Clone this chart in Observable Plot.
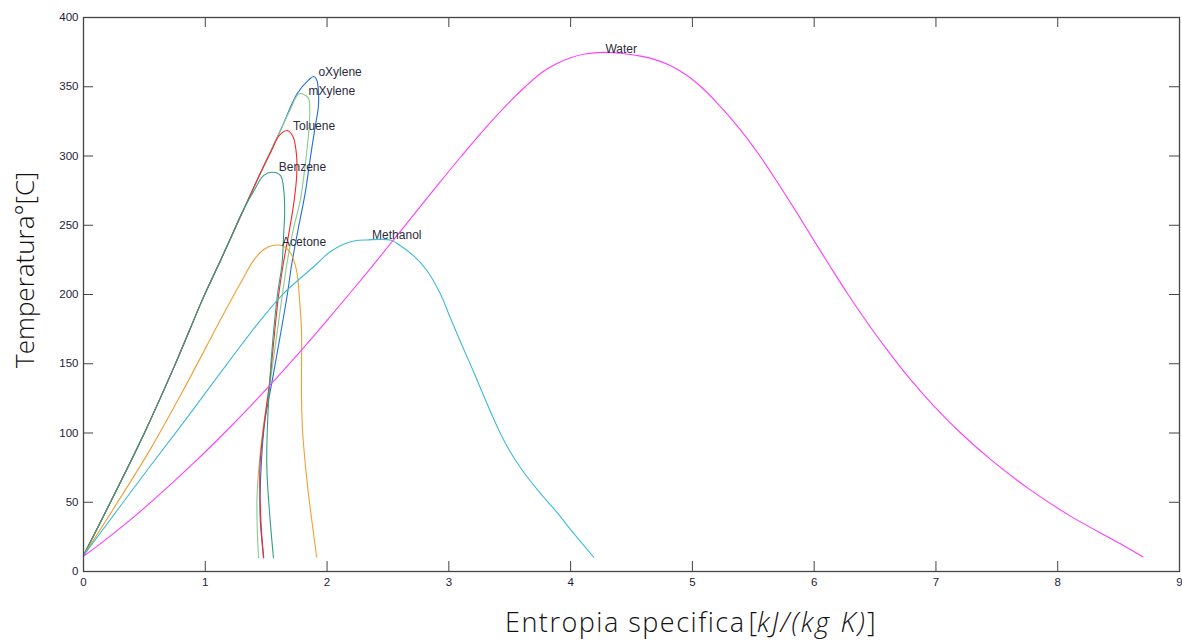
<!DOCTYPE html>
<html>
<head>
<meta charset="utf-8">
<script src="https://cdn.jsdelivr.net/npm/d3@7"></script>
<script src="https://cdn.jsdelivr.net/npm/@observablehq/plot@0.6"></script>
<style>
  html, body { margin: 0; padding: 0; background: #fff; }
  #chart { width: 1182px; height: 641px; }
</style>
</head>
<body>
<div id="chart"></div>
<script>
// ---- Tick labels ----
const xTicks = [0, 1, 2, 3, 4, 5, 6, 7, 8, 9];
const yTicks = [0, 50, 100, 150, 200, 250, 300, 350, 400];

// ---- Fluids ----
const fluids = ["oXylene", "mXylene", "Toluene", "Benzene", "Acetone", "Methanol", "Water"];
const fluidColors = ["#1f6fdc", "#86cc8c", "#ff2424", "#2fa082", "#f0a030", "#3cbcd6", "#ff3cff"];

// Saturation dome, entropy [kJ/(kg K)] and temperature [°C]
const oXyleneS = [0, 0.25, 0.5, 0.75, 0.99, 1.125, 1.22, 1.46, 1.62, 1.754, 1.85, 1.89, 1.915, 1.93, 1.928, 1.90, 1.86, 1.82, 1.76, 1.71, 1.67, 1.55, 1.49, 1.46, 1.45, 1.48];
const oXyleneT = [11.5, 55, 100, 149, 199, 224.5, 243, 289, 319, 345, 355, 357.4, 355, 345, 335, 320, 297, 273, 246, 222, 198, 138, 109, 78, 40, 10];

const mXyleneS = [0, 0.25, 0.5, 0.75, 0.99, 1.125, 1.22, 1.46, 1.62, 1.70, 1.77, 1.845, 1.858, 1.85, 1.82, 1.78, 1.72, 1.67, 1.63, 1.535, 1.47, 1.425, 1.437];
const mXyleneT = [11.5, 55, 100, 149, 199, 224.5, 243, 289, 319, 334, 345, 342, 333, 318, 293, 268, 246, 222, 198, 138, 100, 54, 10];

const tolueneS = [0, 0.25, 0.5, 0.75, 0.99, 1.125, 1.22, 1.46, 1.55, 1.60, 1.672, 1.72, 1.75, 1.75, 1.73, 1.69, 1.64, 1.60, 1.53, 1.45, 1.455, 1.478];
const tolueneT = [11.5, 55, 100, 149, 199, 224.5, 243, 289, 305, 314, 318.4, 314, 300, 285, 268, 246, 222, 198, 138, 78, 40, 10];

const benzeneS = [0, 0.25, 0.5, 0.75, 0.99, 1.125, 1.22, 1.30, 1.40, 1.48, 1.549, 1.617, 1.645, 1.652, 1.645, 1.63, 1.59, 1.53, 1.505, 1.53, 1.56];
const benzeneT = [11.5, 55, 100, 149, 199, 224.5, 243, 259, 275, 286, 288.3, 286, 275, 260, 246, 222, 198, 138, 78, 40, 10];

const acetoneS = [0, 0.273, 0.547, 0.82, 1.15, 1.30, 1.40, 1.48, 1.56, 1.64, 1.70, 1.75, 1.775, 1.79, 1.79, 1.80, 1.835, 1.87, 1.915];
const acetoneT = [11.5, 49, 88, 131, 186, 210, 225, 232.5, 235.5, 235, 230, 217, 195, 174, 126, 100, 65.7, 40, 10.3];

const methanolS = [0, 0.547, 0.82, 1.095, 1.45, 1.64, 1.915, 2.02, 2.135, 2.23, 2.326, 2.52, 2.60, 2.71, 2.82, 2.93, 3.01, 3.10, 3.204, 3.30, 3.40, 3.50, 3.60, 3.70, 3.80, 3.889, 4.026, 4.19];
const methanolT = [11.5, 76, 107.5, 140, 181, 200.5, 222, 230.5, 236.3, 238.8, 239.4, 239.3, 235.4, 228, 217.3, 200.5, 183.6, 165, 144, 124, 104, 87, 73.5, 62, 51.5, 42.5, 27.5, 10.3];

const waterS = [0, 0.145, 0.421, 0.680, 0.925, 1.156, 1.377, 1.588, 1.792, 1.988, 2.179, 2.367, 2.551, 2.734, 2.917, 3.104, 3.298, 3.509, 3.627, 3.766, 3.88, 4.0, 4.13, 4.27, 4.41, 4.545, 4.66, 4.80, 4.95, 5.07, 5.185, 5.385, 5.555, 5.706, 5.851, 5.991, 6.133, 6.279, 6.434, 6.599, 6.778, 6.978, 7.203, 7.461, 7.757, 8.105, 8.515, 8.70];
const waterT = [11, 20.5, 40, 60, 80, 100, 120, 140, 160, 180, 200, 220, 240, 260, 280, 300, 320, 340, 350, 360.5, 366.5, 371, 373.8, 374.8, 374.2, 372.6, 370.5, 366, 358.5, 350, 340, 320, 300, 280, 260, 240, 220, 200, 180, 160, 140, 120, 100, 80, 60, 40, 20, 10.5];

// Curve labels (anchor points in data space)
const labelText = ["oXylene", "mXylene", "Toluene", "Benzene", "Acetone", "Methanol", "Water"];
const labelS = [1.929, 1.847, 1.721, 1.604, 1.631, 2.370, 4.286];
const labelT = [360.3, 346.6, 321.3, 291.9, 237.8, 242.6, 377.4];

// ---- Build tables ----
const series = {
  oXylene: [oXyleneS, oXyleneT],
  mXylene: [mXyleneS, mXyleneT],
  Toluene: [tolueneS, tolueneT],
  Benzene: [benzeneS, benzeneT],
  Acetone: [acetoneS, acetoneT],
  Methanol: [methanolS, methanolT],
  Water: [waterS, waterT]
};
const rows = [];
for (const f of fluids) {
  const [S, T] = series[f];
  S.forEach((s, i) => rows.push({fluid: f, s, T: T[i]}));
}
const labels = labelText.map((t, i) => ({text: t, s: labelS[i], T: labelT[i]}));

// ---- Layout ----
const W = 1182, H = 641;
const mL = 83, mR = 3, mT = 17, mB = 70;
const innerW = W - mL - mR, innerH = H - mT - mB;
const tickLen = 10;
const axisColor = "#444";

const chart = Plot.plot({
  width: W,
  height: H,
  marginLeft: mL,
  marginRight: mR,
  marginTop: mT,
  marginBottom: mB,
  style: {background: "#fff", fontFamily: "'Liberation Sans', Arial, sans-serif"},
  x: {domain: [0, 9], axis: null},
  y: {domain: [0, 400], axis: null},
  color: {domain: fluids, range: fluidColors},
  marks: [
    Plot.line(rows, {x: "s", y: "T", z: "fluid", stroke: "fluid", strokeWidth: 1.1, curve: "catmull-rom"}),
    Plot.text(labels, {x: "s", y: "T", text: "text", textAnchor: "start", fontSize: 12, fill: "#2b2b3b"}),
    // inward ticks on all four sides
    Plot.ruleX(xTicks, {x: d => d, insetTop: innerH - tickLen, stroke: axisColor}),
    Plot.ruleX(xTicks, {x: d => d, insetBottom: innerH - tickLen, stroke: axisColor}),
    Plot.ruleY(yTicks, {y: d => d, insetRight: innerW - tickLen, stroke: axisColor}),
    Plot.ruleY(yTicks, {y: d => d, insetLeft: innerW - tickLen, stroke: axisColor}),
    Plot.frame({stroke: axisColor, strokeWidth: 1.3}),
    Plot.axisX({ticks: xTicks, tickSize: 0, tickPadding: 6, fontSize: 11.5, fill: "#1c1c3c", tickFormat: d => String(d), label: null}),
    Plot.axisY({ticks: yTicks, tickSize: 0, tickPadding: 5, fontSize: 11.5, fill: "#1c1c3c", tickFormat: d => String(d), label: null})
  ]
});

document.getElementById("chart").appendChild(chart);

// ---- Axis titles ----
const svg = d3.select(chart);
const titleFont = "'Open Sans', 'DejaVu Sans', sans-serif";
const xt = svg.append("text")
  .attr("x", 505).attr("y", 632).attr("text-anchor", "start")
  .attr("font-family", titleFont).attr("font-size", 27).attr("font-weight", 300)
  .attr("fill", "#111");
xt.append("tspan").attr("letter-spacing", 1.5).text("Entropia specifica");
xt.append("tspan").attr("dx", 3).text("[");
xt.append("tspan").attr("font-style", "italic").attr("letter-spacing", 2.2).text("kJ/(kg K)");
xt.append("tspan").text("]");

svg.append("text")
  .attr("transform", "translate(34,368) rotate(-90)")
  .attr("text-anchor", "start")
  .attr("font-family", titleFont).attr("font-size", 26).attr("font-weight", 300)
  .attr("fill", "#111")
  .text("Temperatura°[C]");
</script>
</body>
</html>
